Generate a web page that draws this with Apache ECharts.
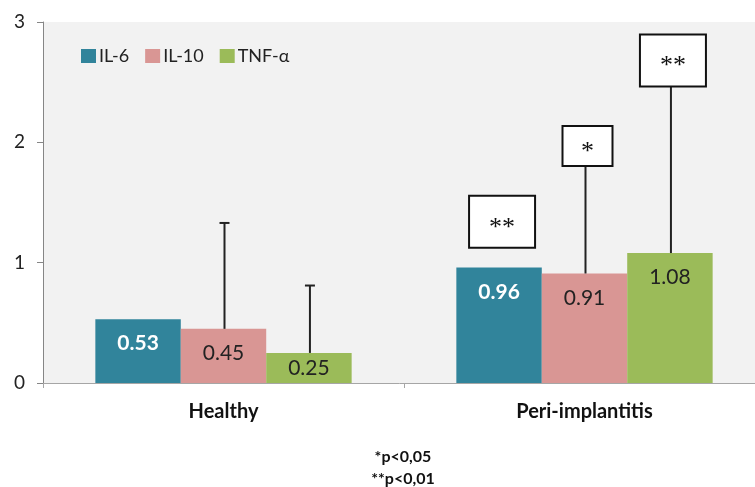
<!DOCTYPE html>
<html>
<head>
<meta charset="utf-8">
<script src="https://cdn.jsdelivr.net/npm/echarts@6/dist/echarts.min.js"></script>
<style>
html,body{margin:0;padding:0;background:#fff;}
#chart{width:755px;height:487px;}
</style>
</head>
<body>
<div id="chart"></div>
<script>
const categories = ['Healthy', 'Peri-implantitis'];
const seriesNames = ['IL-6', 'IL-10', 'TNF-α'];
const il6 = [0.53, 0.96];
const il10 = [0.45, 0.91];
const tnf = [0.25, 1.08];
// upper end of the error bars (null = none)
const il6ErrTop = [null, null];
const il10ErrTop = [1.33, 1.97];
const tnfErrTop = [0.81, 2.68];
// significance marks and the value at which their box is centred
const il6Sig = [null, '**'];
const il10Sig = [null, '*'];
const tnfSig = [null, '**'];
const il6SigPos = [null, 1.34];
const il10SigPos = [null, 1.97];
const tnfSigPos = [null, 2.68];
const yTicks = [0, 1, 2, 3];
const footnotes = ['*p<0,05', '**p<0,01'];

const colors = ['#31849B', '#D99694', '#9BBB59'];
const values = [il6, il10, tnf];
const errTops = [il6ErrTop, il10ErrTop, tnfErrTop];
const sigs = [il6Sig, il10Sig, tnfSig];
const sigPos = [il6SigPos, il10SigPos, tnfSigPos];
const GAP = 0.29;

const annoRows = [];
const annoText = [];
for (let s = 0; s < 3; s++) {
  for (let c = 0; c < categories.length; c++) {
    annoRows.push([c, s, values[s][c], errTops[s][c] == null ? NaN : errTops[s][c], sigPos[s][c] == null ? NaN : sigPos[s][c]]);
    annoText.push(sigs[s][c]);
  }
}

const FONT = 'Lato, "Open Sans", sans-serif';
const chart = echarts.init(document.getElementById('chart'));

const barSeries = seriesNames.map((name, i) => ({
  name: name,
  type: 'bar',
  // short bars get a centred label, others sit near the top (inside end)
  data: values[i].map(v => v < 0.35 ? { value: v, label: { position: 'inside', distance: 0 } } : v),
  barGap: 0,
  barCategoryGap: (GAP * 100) + '%',
  itemStyle: { color: colors[i] },
  z: 2,
  label: {
    show: true,
    position: 'insideTop',
    distance: 14,
    formatter: p => p.value.toFixed(2),
    fontFamily: FONT,
    fontSize: 21,
    color: i === 0 ? '#ffffff' : '#222222',
    fontWeight: i === 0 ? 'bold' : 'normal'
  }
}));

const annoSeries = {
  type: 'custom',
  z: 5,
  silent: true,
  data: annoRows,
  encode: { x: 0, y: 2 },
  renderItem: function (params, api) {
    const c = api.value(0), s = api.value(1), v = api.value(2);
    const err = api.value(3), sp = api.value(4);
    const base = api.coord([c, 0]);
    const catW = api.size([1, 0])[0];
    const barW = catW * (1 - GAP) / 3;
    const x = base[0] + (s - 1) * barW;
    const yTop = api.coord([c, v])[1];
    const children = [];
    if (!isNaN(err)) {
      const ye = api.coord([c, err])[1];
      children.push({ type: 'line', shape: { x1: x + 1, y1: yTop, x2: x + 1, y2: ye }, style: { stroke: '#222', lineWidth: 2 } });
      children.push({ type: 'line', shape: { x1: x - 4, y1: ye, x2: x + 6, y2: ye }, style: { stroke: '#222', lineWidth: 2 } });
    }
    const t = annoText[params.dataIndex];
    if (t && !isNaN(sp)) {
      const yc = api.coord([c, sp])[1];
      const w = t.length > 1 ? 66 : 50;
      const h = t.length > 1 ? 52 : 40;
      children.push({ type: 'rect', shape: { x: x - w / 2 + 3, y: yc - h / 2, width: w, height: h },
        style: { fill: '#ffffff', stroke: '#111', lineWidth: 2 } });
      children.push({ type: 'text', x: x + 3, y: yc + 6,
        style: { text: t, fill: '#111', font: '26px "Liberation Serif", serif', align: 'center', verticalAlign: 'middle' } });
    }
    return { type: 'group', children: children };
  }
};

chart.setOption({
  animation: false,
  backgroundColor: '#ffffff',
  textStyle: { fontFamily: FONT },
  legend: {
    data: seriesNames,
    left: 81,
    top: 47,
    padding: 0,
    itemWidth: 15,
    itemHeight: 14,
    itemGap: 16,
    icon: 'rect',
    textStyle: { fontFamily: FONT, fontSize: 18, color: '#222', padding: [0, 0, 0, -2] }
  },
  grid: {
    left: 43, top: 22, bottom: 104, width: 722,
    outerBoundsMode: 'none',
    containLabel: false,
    show: true, backgroundColor: '#F2F2F2', borderWidth: 0
  },
  xAxis: {
    type: 'category',
    data: categories,
    axisLine: { lineStyle: { color: '#A6A6A6', width: 1 } },
    axisTick: { show: true, length: 5, lineStyle: { color: '#A6A6A6' } },
    axisLabel: { fontFamily: FONT, fontSize: 20, fontWeight: 'bold', color: '#111', margin: 19 }
  },
  yAxis: {
    type: 'value',
    min: yTicks[0],
    max: yTicks[yTicks.length - 1],
    interval: 1,
    splitLine: { show: false },
    axisLine: { show: true, lineStyle: { color: '#868686' } },
    axisTick: { show: true, length: 6, lineStyle: { color: '#868686' } },
    axisLabel: { fontFamily: FONT, fontSize: 19, color: '#222', margin: 18 }
  },
  graphic: [{
    type: 'text',
    style: {
      x: 403, y: 446,
      text: footnotes.join('\n'),
      font: 'bold 16px ' + FONT,
      fill: '#111',
      align: 'center',
      lineHeight: 22
    }
  }],
  series: barSeries.concat([annoSeries])
});
</script>
</body>
</html>
